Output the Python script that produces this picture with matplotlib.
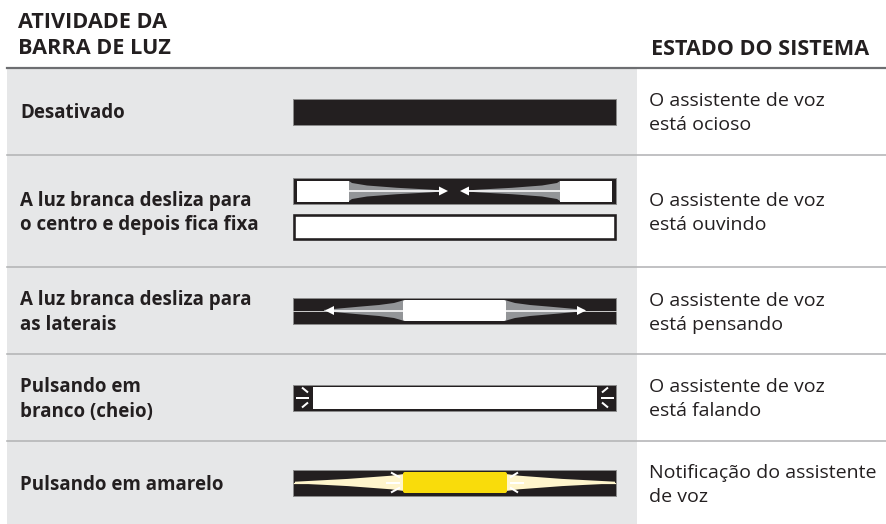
#### Workspace setup ####
import matplotlib
matplotlib.use('Agg')
import matplotlib.pyplot as plt
from matplotlib.patches import Rectangle, FancyBboxPatch, Polygon

#### Data ####
header_left = ['ATIVIDADE DA', 'BARRA DE LUZ']
header_right = ['ESTADO DO SISTEMA']
atividade = [
    ['Desativado'],
    ['A luz branca desliza para', 'o centro e depois fica fixa'],
    ['A luz branca desliza para', 'as laterais'],
    ['Pulsando em', 'branco (cheio)'],
    ['Pulsando em amarelo'],
]
estado = [
    ['O assistente de voz', 'está ocioso'],
    ['O assistente de voz', 'está ouvindo'],
    ['O assistente de voz', 'está pensando'],
    ['O assistente de voz', 'está falando'],
    ['Notificação do assistente', 'de voz'],
]
animacao = ['desligado', 'desliza_centro', 'desliza_laterais', 'pulsa_branco', 'pulsa_amarelo']

#### Layout (pixels) ####
W, H = 887, 524
row_edges = [68, 155, 267, 354, 441, 524]
PANEL_X0, PANEL_X1 = 7, 637
BAR_X0, BAR_X1, BAR_H = 293, 616, 26
LINE_STEP = 24

DARK = '#231f20'
PANEL = '#e6e7e8'
SEP = '#b3b4b6'
HEADER_LINE = '#6d6e71'
BAR_EDGE = '#8a8a8a'
WEDGE_GRAY = '#939598'
YELLOW = '#f9dc0b'
PALE_YELLOW = '#fff5cc'

FONT = ['Open Sans', 'DejaVu Sans']
FS_BOLD = 13.5
FS_REG = 14.0
FS_HEAD = 15.6


def px(v):
    return v * 0.72


def bar(ax, yc, face=DARK, edge=BAR_EDGE, lw=1.0):
    ax.add_patch(Rectangle((BAR_X0, yc - BAR_H / 2), BAR_X1 - BAR_X0, BAR_H,
                           facecolor=face, edgecolor=edge, linewidth=px(lw), zorder=3))


def wedge(ax, x_start, direction, yc, profile, color):
    top = [(x_start + direction * dx, yc - h) for dx, h in profile]
    bot = [(x_start + direction * dx, yc + h) for dx, h in reversed(profile)]
    ax.add_patch(Polygon(top + bot, closed=True, facecolor=color, edgecolor='none', zorder=4))


def arrow(ax, x_from, x_tip, yc, color='white'):
    d = 1 if x_tip > x_from else -1
    ax.plot([x_from, x_tip - d * 6], [yc, yc], color=color, linewidth=px(1.6),
            solid_capstyle='butt', zorder=6)
    ax.add_patch(Polygon([(x_tip, yc), (x_tip - d * 9, yc - 4.5), (x_tip - d * 9, yc + 4.5)],
                         closed=True, facecolor=color, edgecolor='none', zorder=6))


def rays(ax, pts):
    for (xa, ya), (xb, yb) in pts:
        ax.plot([xa, xb], [ya, yb], color='white', linewidth=px(2.0),
                solid_capstyle='butt', zorder=6)


def draw_off(ax, yc):
    bar(ax, yc)


def draw_slide_in(ax, yc):
    y1 = yc - 20
    bar(ax, y1)
    profile = [(0, 10), (3, 8), (18, 5.5), (48, 3.2), (81, 1.4), (95, 0.4)]
    wedge(ax, 349, 1, y1, profile, WEDGE_GRAY)
    wedge(ax, 560, -1, y1, profile, WEDGE_GRAY)
    ax.add_patch(Rectangle((297, y1 - 10.5), 52, 21, facecolor='white', edgecolor='none', zorder=5))
    ax.add_patch(Rectangle((560, y1 - 10.5), 52, 21, facecolor='white', edgecolor='none', zorder=5))
    arrow(ax, 349, 448, y1)
    arrow(ax, 560, 460, y1)
    y2 = yc + 16
    ax.add_patch(Rectangle((BAR_X0 + 1, y2 - BAR_H / 2 + 1), BAR_X1 - BAR_X0 - 2, BAR_H - 2,
                           facecolor='white', edgecolor=DARK, linewidth=px(2.6), zorder=3))


def draw_slide_out(ax, yc):
    bar(ax, yc)
    ax.plot([BAR_X0, BAR_X1], [yc, yc], color='#c8c8c8', linewidth=px(1.0), zorder=4)
    profile = [(0, 10.5), (3, 9.5), (10, 7.5), (25, 5.5), (45, 3.8), (65, 2), (80, 0.6)]
    wedge(ax, 404, -1, yc, profile, WEDGE_GRAY)
    wedge(ax, 505, 1, yc, profile, WEDGE_GRAY)
    ax.add_patch(FancyBboxPatch((404, yc - 9.5), 101, 19, boxstyle='round,pad=1,rounding_size=2',
                                facecolor='white', edgecolor='none', zorder=5))
    arrow(ax, 404, 325, yc)
    arrow(ax, 505, 586, yc)


def draw_pulse_white(ax, yc):
    bar(ax, yc)
    ax.add_patch(Rectangle((313, yc - 11), 284, 22, facecolor='white', edgecolor='none', zorder=4))
    rays(ax, [((302, yc - 10), (308, yc - 5)), ((296, yc), (309, yc)), ((302, yc + 10), (308, yc + 5)),
              ((608, yc - 10), (602, yc - 5)), ((614, yc), (601, yc)), ((608, yc + 10), (602, yc + 5))])


def draw_pulse_yellow(ax, yc):
    bar(ax, yc)
    ax.plot([BAR_X0 + 1, BAR_X1 - 1], [yc, yc], color=PALE_YELLOW, linewidth=px(1.2), zorder=4)
    profile = [(0, 8.5), (13, 6.8), (56, 3.6), (109, 0.8)]
    wedge(ax, 404, -1, yc, profile, PALE_YELLOW)
    wedge(ax, 506, 1, yc, profile, PALE_YELLOW)
    ax.add_patch(FancyBboxPatch((404, yc - 9.5), 102, 19, boxstyle='round,pad=1,rounding_size=2',
                                facecolor=YELLOW, edgecolor='none', zorder=5))
    rays(ax, [((391, yc - 10), (400, yc - 5)), ((386, yc), (400, yc)), ((391, yc + 10), (400, yc + 5)),
              ((518, yc - 10), (510, yc - 5)), ((524, yc), (510, yc)), ((518, yc + 10), (510, yc + 5))])


drawers = {
    'desligado': draw_off,
    'desliza_centro': draw_slide_in,
    'desliza_laterais': draw_slide_out,
    'pulsa_branco': draw_pulse_white,
    'pulsa_amarelo': draw_pulse_yellow,
}


def text_block(ax, x, yc, lines, weight, size):
    # yc is the centre of the cap-height block
    first = yc + 7 - (len(lines) - 1) * LINE_STEP / 2
    for i, line in enumerate(lines):
        ax.text(x, first + i * LINE_STEP, line, fontsize=size, fontweight=weight, color=DARK,
                family=FONT, va='baseline', ha='left', zorder=7)


#### Figure ####
fig = plt.figure(figsize=(W / 100, H / 100), dpi=100)
ax = fig.add_axes([0, 0, 1, 1])
ax.set_xlim(0, W)
ax.set_ylim(H, 0)
ax.axis('off')

ax.add_patch(Rectangle((PANEL_X0, row_edges[0]), PANEL_X1 - PANEL_X0, H - row_edges[0],
                       facecolor=PANEL, edgecolor='none', zorder=0))

# header
for i, line in enumerate(header_left):
    ax.text(18, 28 + i * 26, line, fontsize=FS_HEAD, fontweight='bold', color=DARK,
            family=FONT, va='baseline', ha='left')
ax.text(651, 55, header_right[0], fontsize=FS_HEAD, fontweight='bold', color=DARK,
        family=FONT, va='baseline', ha='left')
ax.plot([PANEL_X0, W], [row_edges[0], row_edges[0]], color=HEADER_LINE, linewidth=px(2.2), zorder=2)

for y in row_edges[1:-1]:
    ax.plot([PANEL_X0, W], [y, y], color=SEP, linewidth=px(1.6), zorder=2)

for i in range(len(atividade)):
    yc = (row_edges[i] + row_edges[i + 1]) / 2
    text_block(ax, 20, yc, atividade[i], 'bold', FS_BOLD)
    text_block(ax, 649, yc, estado[i], 'normal', FS_REG)
    drawers[animacao[i]](ax, yc)

fig.savefig('out.png', dpi=100)
